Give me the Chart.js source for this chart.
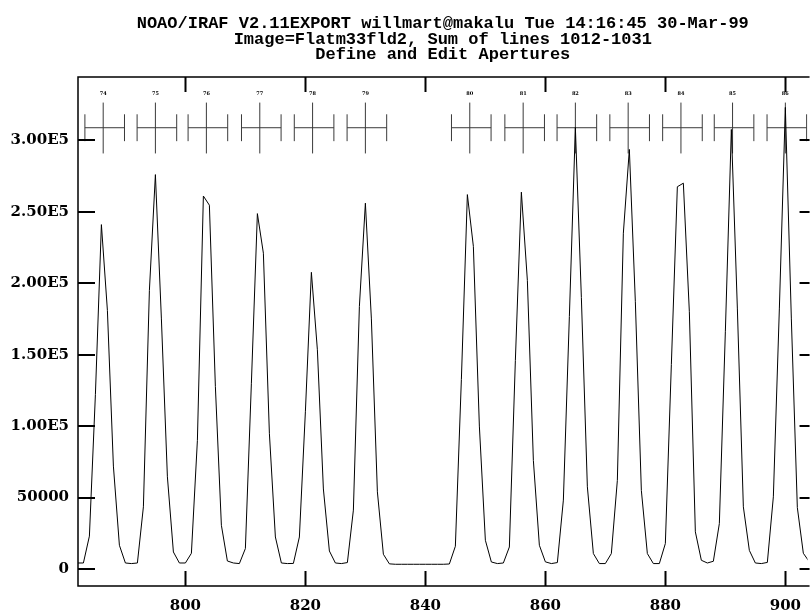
<!DOCTYPE html>
<html>
<head>
<meta charset="utf-8">
<title>Define and Edit Apertures</title>
<script src="https://cdn.jsdelivr.net/npm/chart.js@4.4.0/dist/chart.umd.min.js"></script>
<style>
  html, body { margin: 0; padding: 0; background: #fff; }
  #wrap { width: 812px; height: 616px; }
</style>
</head>
<body>
<div id="wrap"><canvas id="apChart" width="812" height="616"></canvas></div>
<script>
// Header text (three centred lines)
const titleLines = [
    'NOAO/IRAF V2.11EXPORT willmart@makalu Tue 14:16:45 30-Mar-99',
    'Image=Flatm33fld2, Sum of lines 1012-1031',
    'Define and Edit Apertures'
];

// Image columns and summed counts
const columns = [
    782, 783, 784, 785, 786, 787, 788, 789, 790, 791,
    792, 793, 794, 795, 796, 797, 798, 799, 800, 801,
    802, 803, 804, 805, 806, 807, 808, 809, 810, 811,
    812, 813, 814, 815, 816, 817, 818, 819, 820, 821,
    822, 823, 824, 825, 826, 827, 828, 829, 830, 831,
    832, 833, 834, 835, 836, 837, 838, 839, 840, 841,
    842, 843, 844, 845, 846, 847, 848, 849, 850, 851,
    852, 853, 854, 855, 856, 857, 858, 859, 860, 861,
    862, 863, 864, 865, 866, 867, 868, 869, 870, 871,
    872, 873, 874, 875, 876, 877, 878, 879, 880, 881,
    882, 883, 884, 885, 886, 887, 888, 889, 890, 891,
    892, 893, 894, 895, 896, 897, 898, 899, 900, 901,
    902, 903, 904
];
const counts = [
    4200, 4200, 23000, 122000, 241000, 181000, 72000, 16600, 4200, 3800,
    4200, 43500, 195000, 276000, 175000, 64500, 11900, 4200, 4200, 11000,
    90000, 261000, 254600, 127600, 30600, 5600, 4200, 3800, 14300, 130000,
    248700, 221000, 95000, 22400, 4200, 3800, 3900, 22400, 110000, 207600,
    153400, 56000, 12600, 4200, 3800, 4500, 41200, 183700, 256000, 175000,
    54000, 10300, 3600, 3300, 3300, 3300, 3300, 3300, 3300, 3300,
    3300, 3300, 3500, 15900, 132500, 262000, 225800, 100000, 20100, 4900,
    3800, 4200, 15400, 146000, 263700, 202000, 76000, 16600, 5000, 3800,
    4500, 48200, 176700, 309000, 190000, 57500, 10800, 3800, 3800, 10800,
    62000, 235000, 293600, 187000, 55000, 10800, 3800, 3800, 17800, 143000,
    267500, 270000, 180000, 26000, 6100, 4200, 5400, 31800, 166000, 307600,
    182600, 43500, 13000, 4200, 3800, 4600, 50500, 182000, 323000, 175000,
    43000, 11000, 5000
];

// Axis ticks
const xTicks = [800, 820, 840, 860, 880, 900];
const yTicks = [0, 50000, 100000, 150000, 200000, 250000, 300000];
const yTickLabels = ['0', '50000', '1.00E5', '1.50E5', '2.00E5', '2.50E5', '3.00E5'];

// Apertures: centres, ids, lower/upper limits relative to centre
const apCenters = [786.3, 795.0, 803.5, 812.4, 821.2, 830.0, 847.4, 856.3, 865.0, 873.8, 882.6, 891.2, 900.0];
const apIds = ['74', '75', '76', '77', '78', '79', '80', '81', '82', '83', '84', '85', '86'];
const apLower = -3.05;
const apUpper = 3.55;
// marker levels in data units
const apLevel = 308800;
const apBarLo = 299400, apBarHi = 318200;
const apCenLo = 290800, apCenHi = 326400;
const apLabelLevel = 332500;

const FONT = '"DejaVu Serif", serif';

/**
 * Build aperture marker segments (gaps between pieces)
 */
function buildApertureSegments() {
    const pts = [];
    apCenters.forEach(c => {
        const lo = c + apLower;
        const hi = c + apUpper;
        pts.push({ x: lo, y: apLevel }, { x: hi, y: apLevel }, { x: hi, y: null });
        pts.push({ x: lo, y: apBarLo }, { x: lo, y: apBarHi }, { x: lo, y: null });
        pts.push({ x: hi, y: apBarLo }, { x: hi, y: apBarHi }, { x: hi, y: null });
        pts.push({ x: c, y: apCenLo }, { x: c, y: apCenHi }, { x: c, y: null });
    });
    return pts;
}

// Frame, inward ticks, aperture labels and header
const irafPlugin = {
    id: 'irafFrame',
    afterDraw(chart) {
        const ctx = chart.ctx;
        const area = chart.chartArea;
        const xs = chart.scales.x;
        const ys = chart.scales.y;

        ctx.save();
        ctx.strokeStyle = '#000';
        ctx.lineWidth = 1.5;
        ctx.beginPath();
        ctx.moveTo(area.right + 2, area.top);
        ctx.lineTo(area.left, area.top);
        ctx.lineTo(area.left, area.bottom);
        ctx.lineTo(area.right + 2, area.bottom);
        ctx.stroke();

        ctx.lineWidth = 2;
        ctx.beginPath();
        xTicks.forEach(v => {
            const px = Math.round(xs.getPixelForValue(v)) + 0.5;
            ctx.moveTo(px, area.bottom);
            ctx.lineTo(px, area.bottom - 15);
            ctx.moveTo(px, area.top);
            ctx.lineTo(px, area.top + 15);
        });
        yTicks.forEach(v => {
            const py = Math.round(ys.getPixelForValue(v));
            ctx.moveTo(area.left, py);
            ctx.lineTo(area.left + 17, py);
            ctx.moveTo(area.right + 2, py);
            ctx.lineTo(area.right - 8, py);
        });
        ctx.stroke();

        // aperture ids
        ctx.fillStyle = '#000';
        ctx.font = 'bold 5px ' + FONT;
        ctx.textAlign = 'center';
        ctx.textBaseline = 'middle';
        apCenters.forEach((c, i) => {
            ctx.fillText(apIds[i], xs.getPixelForValue(c), ys.getPixelForValue(apLabelLevel));
        });

        // header
        const cx = (area.left + area.right) / 2;
        ctx.font = 'bold 17px "Liberation Mono", monospace';
        ctx.textBaseline = 'alphabetic';
        titleLines.forEach((line, i) => {
            ctx.fillText(line, cx, 28 + i * 15.5);
        });
        ctx.restore();
    }
};

function initChart() {
    const ctx = document.getElementById('apChart');

    new Chart(ctx, {
        type: 'line',
        data: {
            datasets: [
                {
                    label: 'spectrum',
                    data: columns.map((c, i) => ({ x: c, y: counts[i] })),
                    borderColor: '#000',
                    borderWidth: 1,
                    pointRadius: 0,
                    tension: 0
                },
                {
                    label: 'apertures',
                    data: buildApertureSegments(),
                    borderColor: '#3a3a3a',
                    borderWidth: 1,
                    pointRadius: 0,
                    spanGaps: false,
                    tension: 0
                }
            ]
        },
        options: {
            responsive: false,
            animation: false,
            devicePixelRatio: 1,
            layout: {
                padding: { top: 77, right: 0, left: 0, bottom: 0 }
            },
            plugins: {
                legend: { display: false },
                tooltip: { enabled: false },
                title: { display: false }
            },
            scales: {
                x: {
                    type: 'linear',
                    min: 782.1,
                    max: 903.7,
                    grid: { display: false, drawTicks: false },
                    border: { display: false },
                    afterBuildTicks: scale => {
                        scale.ticks = xTicks.map(v => ({ value: v }));
                    },
                    afterFit: scale => { scale.height = 30; },
                    ticks: {
                        color: '#000',
                        padding: 11,
                        maxRotation: 0,
                        font: { family: FONT, size: 15, weight: 'bold' },
                        callback: v => String(v)
                    }
                },
                y: {
                    type: 'linear',
                    min: -11900,
                    max: 344300,
                    grid: { display: false, drawTicks: false },
                    border: { display: false },
                    afterBuildTicks: scale => {
                        scale.ticks = yTicks.map(v => ({ value: v }));
                    },
                    afterFit: scale => { scale.width = 78; },
                    ticks: {
                        color: '#000',
                        padding: 9,
                        font: { family: FONT, size: 15, weight: 'bold' },
                        callback: v => yTickLabels[yTicks.indexOf(v)]
                    }
                }
            }
        },
        plugins: [irafPlugin]
    });
}

document.addEventListener('DOMContentLoaded', initChart);
</script>
</body>
</html>
